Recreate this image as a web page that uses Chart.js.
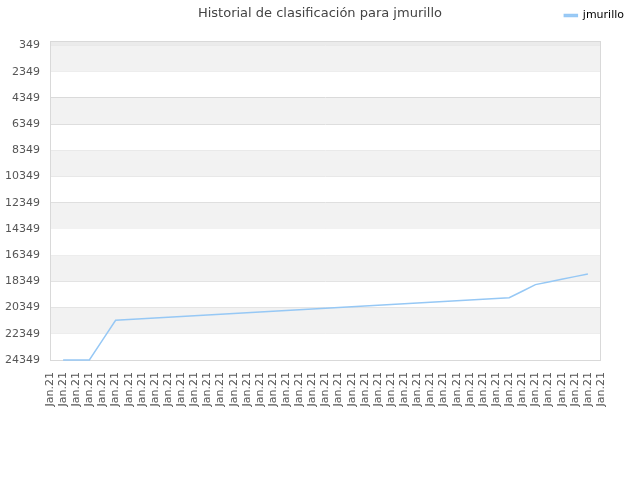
<!DOCTYPE html>
<html>
<head>
<meta charset="utf-8">
<script src="https://cdn.jsdelivr.net/npm/chart.js@4.4.1/dist/chart.umd.min.js"></script>
<style>
  html, body { margin: 0; padding: 0; background: #fff; }
  #wrap { position: relative; width: 640px; height: 480px; }
  #title {
    position: absolute; left: 0; top: 5px; width: 640px; text-align: center;
    font: 13px "DejaVu Sans", sans-serif; color: #444;
  }
</style>
</head>
<body>
<div id="wrap">
  <div id="title">Historial de clasificación para jmurillo</div>
  <canvas id="rankChart" width="640" height="480"></canvas>
</div>
<script>
// Ranking history (lower is better, so the y axis is reversed)
const playerName = 'jmurillo';

const dayLabels = [
    'Jan.21', 'Jan.21', 'Jan.21', 'Jan.21', 'Jan.21', 'Jan.21', 'Jan.21', 'Jan.21', 'Jan.21', 'Jan.21', 'Jan.21',
    'Jan.21', 'Jan.21', 'Jan.21', 'Jan.21', 'Jan.21', 'Jan.21', 'Jan.21', 'Jan.21', 'Jan.21', 'Jan.21', 'Jan.21',
    'Jan.21', 'Jan.21', 'Jan.21', 'Jan.21', 'Jan.21', 'Jan.21', 'Jan.21', 'Jan.21', 'Jan.21', 'Jan.21', 'Jan.21',
    'Jan.21', 'Jan.21', 'Jan.21', 'Jan.21', 'Jan.21', 'Jan.21', 'Jan.21', 'Jan.21', 'Jan.21', 'Jan.21'
];

const rankValues = [
    null, 24349, 24349, 24349, 22830, 21319, 21258, 21199, 21140, 21086,
    21027, 20970, 20913, 20858, 20800, 20744, 20688, 20630, 20574, 20517,
    20460, 20403, 20347, 20290, 20233, 20176, 20120, 20063, 20006, 19949,
    19892, 19835, 19778, 19721, 19664, 19601, 19100, 18594, 18390, 18188,
    17985, 17785, null
];

const rankTicks = [349, 2349, 4349, 6349, 8349, 10349, 12349, 14349, 16349, 18349, 20349, 22349, 24349];
const rankMin = 0;
const rankMax = 24349;

// Alternating grey bands behind the plot, plus the frame around it (both under the line)
const bandPlugin = {
    id: 'bands',
    beforeDatasetsDraw(chart) {
        const { ctx, chartArea, scales } = chart;
        const y = scales.y;
        const edges = [rankMin].concat(rankTicks);
        ctx.save();
        for (let i = 0; i < edges.length - 1; i++) {
            // the sliver above the first tick and every other band after it
            if (i !== 0 && i % 2 === 0) continue;
            const top = y.getPixelForValue(edges[i]);
            const bottom = y.getPixelForValue(edges[i + 1]);
            ctx.fillStyle = i === 0 ? '#ebebeb' : '#f2f2f2';
            ctx.fillRect(chartArea.left, top, chartArea.right - chartArea.left, bottom - top);
        }
        ctx.strokeStyle = '#d9d9d9';
        ctx.lineWidth = 1;
        ctx.strokeRect(chartArea.left + 0.5, chartArea.top + 0.5,
            chartArea.right - chartArea.left - 1, chartArea.bottom - chartArea.top);
        ctx.restore();
    }
};

// empty axis used only as spacing around the plot
const spacerAxis = (pos, size) => ({
    position: pos,
    min: 0,
    max: 1,
    grid: { display: false, drawTicks: false },
    border: { display: false },
    ticks: { display: false },
    afterFit(scale) {
        if (pos === 'top') scale.height = size; else scale.width = size;
    }
});

const rankCtx = document.getElementById('rankChart');
new Chart(rankCtx, {
    type: 'line',
    data: {
        labels: dayLabels,
        datasets: [{
            label: playerName,
            data: rankValues,
            borderColor: 'rgb(150, 200, 245)',
            backgroundColor: 'rgb(160, 205, 245)',
            borderWidth: 1.5,
            pointRadius: 0,
            tension: 0,
            spanGaps: false,
            clip: false
        }]
    },
    options: {
        responsive: false,
        animation: false,
        layout: { padding: { top: 0, right: 6, left: 0, bottom: 0 } },
        plugins: {
            title: { display: false },
            tooltip: { enabled: false },
            legend: {
                position: 'top',
                align: 'end',
                labels: {
                    boxWidth: 13,
                    boxHeight: 2,
                    padding: 10,
                    color: '#000',
                    font: { family: 'DejaVu Sans', size: 11 }
                }
            }
        },
        scales: {
            x: {
                offset: false,
                grid: { display: false, drawTicks: false },
                border: { display: false },
                ticks: {
                    autoSkip: false,
                    minRotation: 90,
                    maxRotation: 90,
                    padding: 12,
                    color: '#555',
                    font: { family: 'DejaVu Sans', size: 11 }
                },
                afterFit(scale) { scale.height = 120; }
            },
            y: {
                reverse: true,
                min: rankMin,
                max: rankMax,
                grid: { color: '#dadada', drawTicks: false },
                border: { display: false },
                ticks: {
                    padding: 10,
                    color: '#555',
                    font: { family: 'DejaVu Sans', size: 11 },
                    callback: v => String(v)
                },
                afterBuildTicks(scale) {
                    scale.ticks = rankTicks.map(v => ({ value: v }));
                },
                afterFit(scale) { scale.width = 50; }
            },
            spacerRight: spacerAxis('right', 33),
            spacerTop: spacerAxis('top', 10)
        }
    },
    plugins: [bandPlugin]
});
</script>
</body>
</html>
